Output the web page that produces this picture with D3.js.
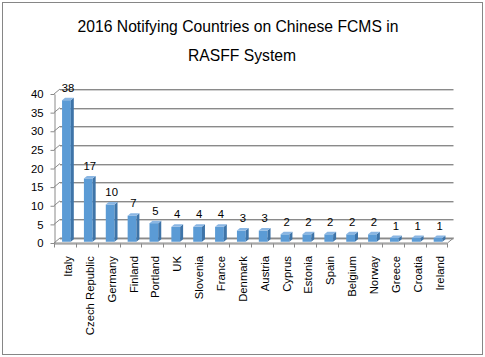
<!DOCTYPE html>
<html><head><meta charset="utf-8">
<script src="https://cdn.jsdelivr.net/npm/d3@7"></script>
<style>html,body{margin:0;padding:0;background:#fff;}svg{display:block;}</style>
</head><body>
<script>
const categories = ["Italy","Czech Republic","Germany","Finland","Portland","UK","Slovenia","France","Denmark","Austria","Cyprus","Estonia","Spain","Belgium","Norway","Greece","Croatia","Ireland"];
const values = [38,17,10,7,5,4,4,4,3,3,2,2,2,2,2,1,1,1];
const yTicks = [0,5,10,15,20,25,30,35,40];
const titleLines = ["2016 Notifying Countries on Chinese FCMS in","RASFF System"];

const W = 485, H = 357;
const svg = d3.select("body").append("svg").attr("width", W).attr("height", H);
const font = "'Liberation Sans', Arial, sans-serif";

svg.append("rect").attr("x",2.5).attr("y",2.5).attr("width",480).attr("height",352)
  .attr("fill","#fff").attr("stroke","#868686").attr("stroke-width",1);

// title
svg.append("text").attr("x",238).attr("y",31.5).attr("text-anchor","middle")
  .attr("font-family",font).attr("font-size",15.7).attr("fill","#000").text(titleLines[0]);
svg.append("text").attr("x",242).attr("y",61).attr("text-anchor","middle")
  .attr("font-family",font).attr("font-size",15.7).attr("fill","#000").text(titleLines[1]);

const DX = 6, DY = -5; // depth offset
const x = d3.scaleBand().domain(categories).range([54, 447.5]).paddingInner(0).paddingOuter(0);
const yF = d3.scaleLinear().domain([0,40]).range([243, 94]);
const yB = v => yF(v) + DY;

const g = svg.append("g");

// back wall gridlines
yTicks.forEach(t => {
  const yy = Math.round(yB(t)) + 0.5;
  g.append("line").attr("x1",54+DX).attr("x2",447.5+DX).attr("y1",yy+1).attr("y2",yy+1)
    .attr("stroke","#d0d0d0").attr("stroke-width",1);
  g.append("line").attr("x1",54+DX).attr("x2",447.5+DX).attr("y1",yy).attr("y2",yy)
    .attr("stroke","#8a8a8a").attr("stroke-width",1);
  g.append("line").attr("x1",54).attr("y1",yF(t)).attr("x2",54+DX).attr("y2",yB(t))
    .attr("stroke","#8a8a8a").attr("stroke-width",1);
});

// floor
g.append("path").attr("d",`M54,${yF(0)}L447.5,${yF(0)}L${447.5+DX},${yB(0)}L${54+DX},${yB(0)}`)
  .attr("fill","none").attr("stroke","#8a8a8a").attr("stroke-width",1);

// y axis
const yAxisG = svg.append("g").attr("transform","translate(54.5,0)")
  .call(d3.axisLeft(yF).tickValues(yTicks).tickSize(4).tickPadding(7).tickSizeOuter(0));
yAxisG.select(".domain").attr("stroke","#8a8a8a");
yAxisG.selectAll(".tick line").attr("stroke","#8a8a8a");
yAxisG.selectAll("text").attr("font-family",font).attr("font-size",11.3).attr("fill","#000");

// x axis
const xAxisG = svg.append("g").attr("transform",`translate(0,${yF(0)+0.5})`)
  .call(d3.axisBottom(x).tickSize(0).tickFormat(""));
xAxisG.select(".domain").attr("stroke","#8a8a8a");
const bounds = categories.map(c => x(c)).concat([x(categories[categories.length-1]) + x.bandwidth()]);
xAxisG.selectAll(".xt").data(bounds).enter().append("line").attr("class","xt")
  .attr("x1",d=>Math.round(d)+0.5).attr("x2",d=>Math.round(d)+0.5).attr("y1",0).attr("y2",4)
  .attr("stroke","#8a8a8a");

// bars
const bw = x.bandwidth()*0.4, bdx = 3, bdy = -2.5, off = 1.5, offy = -1.25;
const bars = svg.append("g");
categories.forEach((c,i) => {
  const v = values[i];
  const cx = x(c) + x.bandwidth()/2 + off;
  const x0 = cx - bw/2, x1 = cx + bw/2;
  const yb = yF(0) + offy, yt = yF(v) + offy;
  bars.append("rect").attr("x",x0).attr("y",yt).attr("width",bw).attr("height",yb-yt).attr("fill","#5b9bd5");
  bars.append("path").attr("d",`M${x1},${yt}L${x1+bdx},${yt+bdy}L${x1+bdx},${yb+bdy}L${x1},${yb}Z`).attr("fill","#3e74a8");
  bars.append("path").attr("d",`M${x0},${yt}L${x0+bdx},${yt+bdy}L${x1+bdx},${yt+bdy}L${x1},${yt}Z`).attr("fill","#8ab6e3");
  svg.append("text").attr("x",cx+1.5).attr("y",yt+bdy-6).attr("text-anchor","middle")
    .attr("font-family",font).attr("font-size",11.3).attr("fill","#000").text(v);
  svg.append("text").attr("transform",`translate(${cx+1.5+4},256) rotate(-90)`)
    .attr("text-anchor","end").attr("font-family",font).attr("font-size",11.3).attr("fill","#000").text(c);
});
</script>
</body></html>
